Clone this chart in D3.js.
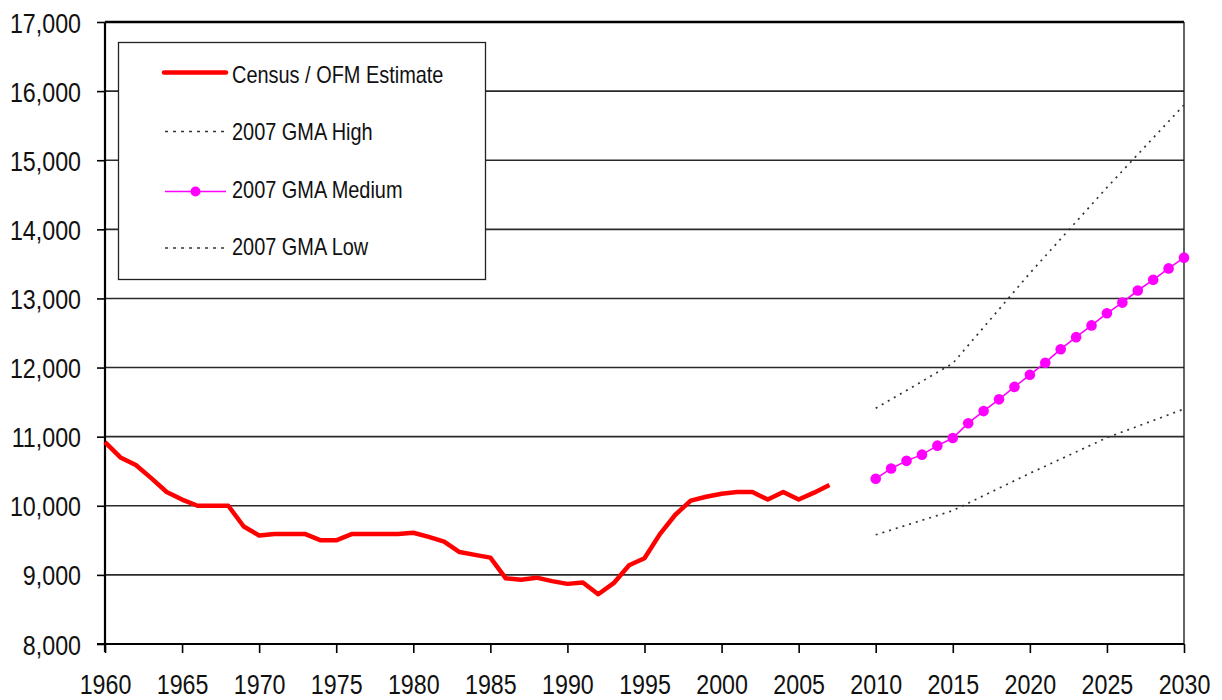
<!DOCTYPE html>
<html>
<head>
<meta charset="utf-8">
<script src="https://cdn.jsdelivr.net/npm/d3@7"></script>
<style>
html,body{margin:0;padding:0;background:#fff;}
svg{display:block;}
text{font-family:"Liberation Sans Narrow","Arial Narrow","Liberation Sans",Arial,sans-serif;fill:#111;}
</style>
</head>
<body>
<svg id="chart" width="1222" height="700"></svg>
<script>
// ---- data ----
const censusYears = [1960,1961,1962,1963,1964,1965,1966,1967,1968,1969,1970,1971,1972,1973,1974,1975,1976,1977,1978,1979,1980,1981,1982,1983,1984,1985,1986,1987,1988,1989,1990,1991,1992,1993,1994,1995,1996,1997,1998,1999,2000,2001,2002,2003,2004,2005,2006,2007];
const censusValues = [10920,10700,10590,10400,10200,10090,10000,10000,10000,9700,9570,9590,9590,9590,9500,9500,9590,9590,9590,9590,9610,9550,9480,9330,9290,9250,8950,8930,8960,8910,8870,8890,8720,8880,9140,9240,9590,9870,10075,10130,10175,10200,10200,10090,10200,10090,10190,10300];
const mediumYears = [2010,2011,2012,2013,2014,2015,2016,2017,2018,2019,2020,2021,2022,2023,2024,2025,2026,2027,2028,2029,2030];
const mediumValues = [10390,10540,10650,10740,10870,10980,11195,11370,11540,11720,11895,12070,12265,12440,12610,12785,12940,13115,13270,13435,13590];
const highYears = [2010,2015,2020,2025,2030];
const highValues = [11410,12060,13365,14605,15800];
const lowYears = [2010,2015,2020,2025,2030];
const lowValues = [9580,9930,10470,10985,11400];
const xTicks = [1960,1965,1970,1975,1980,1985,1990,1995,2000,2005,2010,2015,2020,2025,2030];
const yTicks = [8000,9000,10000,11000,12000,13000,14000,15000,16000,17000];
const legendLabels = ["Census / OFM Estimate","2007 GMA High","2007 GMA Medium","2007 GMA Low"];

// ---- layout ----
const svg = d3.select("#chart");
const x = d3.scaleLinear().domain([1960,2030]).range([105,1184]);
const y = d3.scaleLinear().domain([8000,17000]).range([644,22]);
const fmt = d3.format(",");

// condense text horizontally (narrow font look)
function narrow(sel, k){
  sel.each(function(){
    const len = this.getComputedTextLength();
    d3.select(this).attr("textLength", len*k).attr("lengthAdjust","spacingAndGlyphs");
  });
}

// gridlines
svg.append("g").selectAll("line").data(yTicks.filter(v=>v>8000 && v<17000)).join("line")
  .attr("x1",x(1960)).attr("x2",x(2030))
  .attr("y1",d=>y(d)).attr("y2",d=>y(d))
  .attr("stroke","#2a2a2a").attr("stroke-width",1.6);

// top border
svg.append("line").attr("x1",x(1960)).attr("x2",x(2030)).attr("y1",y(17000)).attr("y2",y(17000))
  .attr("stroke","#000").attr("stroke-width",2.5);
// right border
svg.append("line").attr("x1",x(2030)).attr("x2",x(2030)).attr("y1",y(17000)).attr("y2",y(8000))
  .attr("stroke","#111").attr("stroke-width",1.3);

// y axis
const yAxis = d3.axisLeft(y).tickValues(yTicks).tickFormat(fmt).tickSize(8).tickPadding(16);
const gy = svg.append("g").attr("transform",`translate(${x(1960)},0)`).call(yAxis);
gy.select(".domain").attr("stroke","#000").attr("stroke-width",2.2).attr("d",`M0,${y(17000)}V${y(8000)+8}`);
gy.selectAll(".tick line").attr("stroke","#000").attr("stroke-width",1.6);
gy.selectAll(".tick text").attr("font-size",28).attr("font-family",null).attr("fill","#111").attr("dy","0.36em");
narrow(gy.selectAll(".tick text"), 0.83);

// x axis
const xAxis = d3.axisBottom(x).tickValues(xTicks).tickFormat(d3.format("d")).tickSize(9).tickPadding(21);
const gx = svg.append("g").attr("transform",`translate(0,${y(8000)})`).call(xAxis);
gx.select(".domain").attr("stroke","#000").attr("stroke-width",2).attr("d",`M${x(1960)-8},0H${x(2030)}`);
gx.selectAll(".tick line").attr("stroke","#000").attr("stroke-width",1.6);
gx.selectAll(".tick text").attr("font-size",28).attr("font-family",null).attr("fill","#111");
narrow(gx.selectAll(".tick text"), 0.83);

// legend box
const lg = svg.append("g");
lg.append("rect").attr("x",118.5).attr("y",42.5).attr("width",367).attr("height",237)
  .attr("fill","#fff").attr("stroke","#222").attr("stroke-width",1.3);

const lineGen = (xs) => d3.line().x((d,i)=>x(xs[i])).y(d=>y(d));

// High & Low dotted
svg.append("path").attr("d",lineGen(highYears)(highValues))
  .attr("fill","none").attr("stroke","#333").attr("stroke-width",1.7).attr("stroke-dasharray","2,5");
svg.append("path").attr("d",lineGen(lowYears)(lowValues))
  .attr("fill","none").attr("stroke","#333").attr("stroke-width",1.7).attr("stroke-dasharray","2,5");

// Medium
svg.append("path").attr("d",lineGen(mediumYears)(mediumValues))
  .attr("fill","none").attr("stroke","#ff00ff").attr("stroke-width",1.6);
svg.append("g").selectAll("circle").data(mediumValues).join("circle")
  .attr("cx",(d,i)=>x(mediumYears[i])).attr("cy",d=>y(d)).attr("r",5.3).attr("fill","#ff00ff");

// Census
svg.append("path").attr("d",lineGen(censusYears)(censusValues))
  .attr("fill","none").attr("stroke","#ff0000").attr("stroke-width",4.5).attr("stroke-linejoin","round");

// legend entries
const ly = [72.5,131.5,191.5,248];
const lt = [82.5,140,198,255];
const sw = svg.append("g");
sw.append("line").attr("x1",164).attr("x2",226).attr("y1",ly[0]).attr("y2",ly[0])
  .attr("stroke","#ff0000").attr("stroke-width",4.5).attr("stroke-linecap","round");
sw.append("line").attr("x1",165).attr("x2",226).attr("y1",ly[1]).attr("y2",ly[1])
  .attr("stroke","#333").attr("stroke-width",1.5).attr("stroke-dasharray","3,5");
sw.append("line").attr("x1",165).attr("x2",226).attr("y1",ly[2]).attr("y2",ly[2])
  .attr("stroke","#ff00ff").attr("stroke-width",1.5);
sw.append("circle").attr("cx",195.5).attr("cy",ly[2]).attr("r",5).attr("fill","#ff00ff");
sw.append("line").attr("x1",165).attr("x2",226).attr("y1",ly[3]).attr("y2",ly[3])
  .attr("stroke","#333").attr("stroke-width",1.5).attr("stroke-dasharray","3,5");
const lts = sw.selectAll("text").data(legendLabels).join("text")
  .attr("x",232).attr("y",(d,i)=>lt[i]).attr("font-size",24).text(d=>d);
narrow(lts, 0.83);
</script>
</body>
</html>
